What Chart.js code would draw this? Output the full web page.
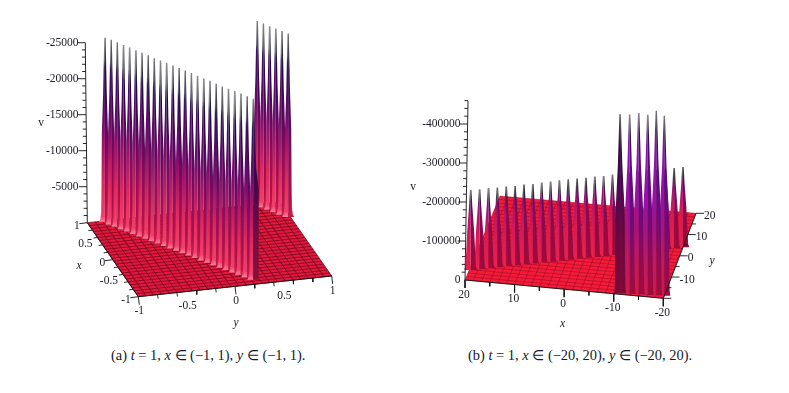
<!DOCTYPE html>
<html>
<head>
<meta charset="utf-8">
<script src="https://cdn.jsdelivr.net/npm/chart.js@4/dist/chart.umd.min.js"></script>
<style>
  html, body { margin: 0; background: #fff; }
  #page { position: relative; width: 789px; height: 393px; overflow: hidden; }
  canvas { position: absolute; top: 0; }
  .cap { position: absolute; top: 347px; font: 14.45px "Liberation Serif", serif; color: #14182a; white-space: nowrap; }
</style>
</head>
<body>
<div id="page">
  <canvas id="plotA" width="395" height="340" style="left:0"></canvas>
  <canvas id="plotB" width="394" height="340" style="left:395px"></canvas>
  <div class="cap" style="left:111px">(a) <i>t</i> = 1, <i>x</i> ∈ (−1, 1), <i>y</i> ∈ (−1, 1).</div>
  <div class="cap" style="left:468px">(b) <i>t</i> = 1, <i>x</i> ∈ (−20, 20), <i>y</i> ∈ (−20, 20).</div>
</div>
<script>
// panel (a) values
const aRidgeX = [0.97, 0.893, 0.816, 0.739, 0.662, 0.585, 0.508, 0.431, 0.354, 0.276, 0.199, 0.122, 0.045, -0.032, -0.109, -0.186, -0.263, -0.34, -0.417, -0.495, -0.572, -0.649, -0.726, -0.803, -0.88];
const aRidgeY = [-0.825, -0.781, -0.738, -0.694, -0.651, -0.607, -0.564, -0.52, -0.477, -0.433, -0.39, -0.346, -0.302, -0.259, -0.215, -0.172, -0.128, -0.085, -0.041, 0.002, 0.046, 0.09, 0.133, 0.177, 0.22];
const aRidgeV = [25600, 25650, 25630, 25590, 25560, 25530, 25490, 25500, 25420, 25420, 25450, 25400, 25380, 25380, 25350, 25310, 25280, 25290, 25210, 25170, 25180, 25210, 25170, 25130, 25140];
const aBackX = [0.986, 0.909, 0.832, 0.755, 0.677, 0.6];
const aBackY = [0.76, 0.803, 0.847, 0.89, 0.933, 0.977];
const aBackV = [25550, 25550, 25500, 25500, 25500, 25500];
const aVTicks = [5000, 10000, 15000, 20000, 25000];
const aXTicks = [1, 0.5, 0, -0.5, -1];
const aYTicks = [-1, -0.5, 0, 0.5, 1];

// panel (b) values
const bRidgeX = [19.7, 18.05, 16.39, 14.74, 13.08, 11.43, 9.78, 8.12, 6.47, 4.81, 3.16, 1.51, -0.15, -1.8, -3.46, -5.11, -6.77, -8.42, -10.07, -11.73, -13.38, -15.03, -16.69, -18.34, -20];
const bRidgeY = [-15.2, -14.4, -13.6, -12.8, -12, -11.2, -10.4, -9.6, -8.8, -8, -7.2, -6.4, -5.6, -4.8, -4, -3.2, -2.4, -1.6, -0.8, 0, 0.8, 1.6, 2.4, 3.2, 4];
const bRidgeV = [205100, 205100, 205400, 204600, 204900, 203800, 205100, 204100, 205100, 205400, 206200, 206400, 205600, 205600, 205900, 204900, 206200, 206200, 206400, 207200, 207200, 206700, 206700, 205900, 205900];
const bTallX = [-11.2, -13.1, -14.9, -16.7, -18.4, -20];
const bTallY = [-19.5, -19.4, -19.2, -19.1, -18.9, -18.8];
const bTallV = [459000, 460000, 465000, 462000, 473000, 461500];
const bVTicks = [100000, 200000, 300000, 400000];
const bXTicks = [20, 10, 0, -10, -20];
const bYTicks = [-10, 0, 10, 20];

// floor corners on the page, bilinear in between
const viewA = { xMax: 1, yMax: 1, perV: 36 / 5000,
  front0: { x: 87.3, y: 222.7 }, front1: { x: 138.3, y: 296.7 }, back0: { x: 280, y: 202 }, back1: { x: 331.7, y: 276 } };
const viewB = { xMax: 20, yMax: 20, perV: 39 / 100000,
  front0: { x: 465, y: 280 }, front1: { x: 663.3, y: 298.3 }, back0: { x: 500, y: 196 }, back1: { x: 696, y: 213.3 } };

// [height fraction, half width in px]
const profileA = [[0, 6], [0.015, 4.6], [0.05, 3.8], [0.15, 3.5], [0.48, 3.1], [0.7, 1.8], [1, 0.7]];
const profileShort = [[0, 6.5], [0.04, 5.2], [0.2, 4.6], [0.5, 3.4], [0.8, 1.6], [1, 0.8]];
const profileTall = [[0, 6], [0.03, 5.4], [0.2, 4.9], [0.48, 4.3], [0.72, 2.2], [1, 0.7]];
const profileWall = [[0, 5.5], [0.5, 5.5], [0.62, 3], [1, 0.7]];

const litA = [[0, '#f6809a'], [0.03, '#f0406c'], [0.2, '#e02a60'], [0.4, '#a8146a'], [0.55, '#6e0c6e'], [0.75, '#480a64'], [0.84, '#3a1a58'], [0.88, '#6a6a78'], [1, '#909090']];
const darkA = [[0, '#c81c48'], [0.1, '#b01248'], [0.3, '#8c1058'], [0.5, '#5c0a5e'], [0.8, '#22083e'], [0.86, '#2a2838'], [1, '#505050']];
const wallA = [[0, '#8a1036'], [0.3, '#6c0c44'], [0.6, '#340848'], [0.86, '#2a1a3a'], [1, '#666666']];
const litShort = [[0, '#e8204e'], [0.4, '#d81a58'], [0.65, '#b8146c'], [0.8, '#8a1070'], [0.88, '#4a3a50'], [1, '#7a7a7a']];
const darkShort = [[0, '#a00a38'], [0.4, '#900a44'], [0.65, '#800c58'], [0.8, '#5a0c58'], [0.88, '#2a2a30'], [1, '#444444']];
const litTall = [[0, '#cc1a4a'], [0.2, '#c01860'], [0.35, '#a8147c'], [0.5, '#9a12a0'], [0.8, '#9010b0'], [0.9, '#6a2a90'], [1, '#8c8090']];
const darkTall = [[0, '#a00c3c'], [0.2, '#8c0c54'], [0.4, '#6e0c78'], [0.75, '#560c86'], [0.88, '#2c1438'], [1, '#4a4a4a']];
const wallTall = [[0, '#7c0a38'], [0.3, '#6a0840'], [0.6, '#4a0a50'], [0.8, '#2c0a3c'], [1, '#555555']];

function project(view, x, y, v) {
  const u = (view.xMax - x) / (2 * view.xMax);
  const w = (y + view.yMax) / (2 * view.yMax);
  const px = (1 - u) * (1 - w) * view.front0.x + u * (1 - w) * view.front1.x + (1 - u) * w * view.back0.x + u * w * view.back1.x;
  const py = (1 - u) * (1 - w) * view.front0.y + u * (1 - w) * view.front1.y + (1 - u) * w * view.back0.y + u * w * view.back1.y;
  return { x: px, y: py - v * view.perV };
}

function shape(points, color) {
  return { data: points, showLine: true, fill: 'shape', backgroundColor: color, borderWidth: 0, pointRadius: 0, borderDash: [1] };
}

function lines(points, color, width) {
  return { data: points, showLine: true, fill: false, borderColor: color, borderWidth: width, pointRadius: 0, spanGaps: false };
}

function heightGradient(base, top, stops) {
  return function (ctx) {
    const c = ctx.chart;
    const y0 = c.scales.y ? c.scales.y.getPixelForValue(base.y) : NaN;
    const y1 = c.scales.y ? c.scales.y.getPixelForValue(top.y) : NaN;
    if (!isFinite(y0) || !isFinite(y1)) return stops[0][1];
    const g = c.ctx.createLinearGradient(0, y0, 0, y1);
    stops.forEach(s => g.addColorStop(s[0], s[1]));
    return g;
  };
}

// one ridge peak: a lit half and a shaded half
function spike(view, x, y, v, profile, lit, dark, rightProfile) {
  const base = project(view, x, y, 0);
  const top = project(view, x, y, v);
  const at = (f, off) => ({ x: base.x + off, y: base.y + (top.y - base.y) * f });
  const left = profile.map(p => at(p[0], -p[1]));
  const right = (rightProfile || profile).map(p => at(p[0], p[1]));
  const centre = [at(1, 0), at(0, 0)];
  return [
    shape(left.concat(centre), heightGradient(base, top, lit)),
    shape(right.concat(centre), heightGradient(base, top, dark))
  ];
}

function floor(view, color, gridColor, cells, gridWidth) {
  const X = view.xMax, Y = view.yMax;
  const out = [shape([project(view, X, -Y, 0), project(view, -X, -Y, 0), project(view, -X, Y, 0), project(view, X, Y, 0)], color)];
  const grid = [];
  for (let i = 0; i <= cells; i++) {
    const t = -1 + 2 * i / cells;
    grid.push(project(view, X * t, -Y, 0), project(view, X * t, Y, 0), { x: NaN, y: NaN });
    grid.push(project(view, X, Y * t, 0), project(view, -X, Y * t, 0), { x: NaN, y: NaN });
  }
  out.push(lines(grid, gridColor, gridWidth));
  return out;
}

// v axis with its ticks, plus the two front floor edges
function axes(view, vTop, vMinor, lean) {
  const X = view.xMax, Y = view.yMax;
  const o = project(view, X, -Y, 0);
  const topP = project(view, X, -Y, vTop);
  const pts = [];
  pts.push(o, { x: topP.x + lean, y: topP.y }, { x: NaN, y: NaN });
  for (let v = vMinor; v <= vTop; v += vMinor) {
    const p = project(view, X, -Y, v);
    const ax = o.x + lean * v / vTop;
    const major = Math.round(v / vMinor) % 5 === 0;
    pts.push({ x: ax, y: p.y }, { x: ax - (major ? 8 : 3.5), y: p.y }, { x: NaN, y: NaN });
  }
  pts.push(project(view, X, -Y, 0), project(view, -X, -Y, 0), { x: NaN, y: NaN });
  pts.push(project(view, -X, -Y, 0), project(view, -X, Y, 0), { x: NaN, y: NaN });
  return pts;
}

function tickMarks(pts, from, dx, dy, isMajor) {
  from.forEach((p, i) => {
    const k = isMajor(i) ? 1 : 0.5;
    pts.push(p, { x: p.x + dx * k, y: p.y + dy * k }, { x: NaN, y: NaN });
  });
}

function addText(list, text, x, y, align, italic) {
  list.push({ text, x, y, align, italic });
}

const textPlugin = {
  id: 'pageText',
  afterDraw(chart, args, opts) {
    const c = chart.ctx;
    c.save();
    c.textBaseline = 'middle';
    c.fillStyle = '#20202a';
    opts.items.forEach(t => {
      c.font = (t.italic ? 'italic ' : '') + '11.5px "Liberation Serif", serif';
      c.textAlign = t.align;
      c.fillText(t.text, chart.scales.x.getPixelForValue(t.x), chart.scales.y.getPixelForValue(t.y));
    });
    c.restore();
  }
};

function makeChart(id, xMin, xMax, drawn, items) {
  // Chart.js paints the first dataset last, so hand them over reversed
  return new Chart(document.getElementById(id).getContext('2d'), {
    type: 'scatter',
    data: { datasets: drawn.slice().reverse() },
    plugins: [textPlugin],
    options: {
      responsive: false,
      animation: false,
      events: [],
      layout: { padding: 0 },
      scales: {
        x: { type: 'linear', display: false, min: xMin, max: xMax },
        y: { type: 'linear', display: false, min: 0, max: 340, reverse: true }
      },
      plugins: { legend: { display: false }, tooltip: { enabled: false }, pageText: { items } }
    }
  });
}

function buildA() {
  let sets = floor(viewA, '#e01a3e', 'rgba(110,0,24,0.9)', 25, 0.8);
  aBackX.forEach((x, i) => { sets = sets.concat(spike(viewA, x, aBackY[i], aBackV[i], profileA, litA, darkA)); });
  aRidgeX.forEach((x, i) => {
    const last = i === aRidgeX.length - 1;
    if (last) sets = sets.concat(spike(viewA, x, aRidgeY[i], aRidgeV[i], profileA, litA, wallA, profileWall));
    else sets = sets.concat(spike(viewA, x, aRidgeY[i], aRidgeV[i], profileA, litA, darkA));
  });
  const ax = axes(viewA, 25000, 1000, -2);
  const leftEdge = [], frontEdge = [];
  for (let i = 0; i <= 10; i++) {
    leftEdge.push(project(viewA, 1 - i / 5, -1, 0));
    frontEdge.push(project(viewA, -1, -1 + i / 5, 0));
  }
  tickMarks(ax, leftEdge, -8, 1, i => i % 5 === 0);
  tickMarks(ax, frontEdge, 1, 8, i => i % 5 === 0);
  sets.push(lines(ax, '#111111', 0.9));

  const items = [];
  aVTicks.forEach(v => { const p = project(viewA, 1, -1, v); addText(items, '-' + v, 78.5, p.y, 'right'); });
  aXTicks.forEach(t => { const p = project(viewA, t, -1, 0); addText(items, String(t), p.x - 7.5, p.y + 3, 'right'); });
  aYTicks.forEach(t => { const p = project(viewA, -1, t, 0); addText(items, String(t), p.x + 1, p.y + 14.5, 'center'); });
  addText(items, 'v', 41, 123, 'center');
  addText(items, 'x', 79, 265.5, 'center', true);
  addText(items, 'y', 236, 323, 'center', true);
  makeChart('plotA', 0, 395, sets, items);
}

function buildB() {
  let sets = floor(viewB, '#f21c3a', 'rgba(130,0,24,0.65)', 24, 0.6);
  bRidgeX.slice().reverse().forEach((x, j) => {
    const i = bRidgeX.length - 1 - j;
    sets = sets.concat(spike(viewB, x, bRidgeY[i], bRidgeV[i], profileShort, litShort, darkShort));
  });
  bTallX.slice().reverse().forEach((x, j) => {
    const i = bTallX.length - 1 - j;
    if (i === 0) sets = sets.concat(spike(viewB, x, bTallY[i], bTallV[i], profileTall, wallTall, wallTall));
    else sets = sets.concat(spike(viewB, x, bTallY[i], bTallV[i], profileTall, litTall, darkTall));
  });
  const ax = axes(viewB, 460000, 20000, 3);
  const frontEdge = [], rightEdge = [];
  for (let i = 0; i <= 8; i++) {
    frontEdge.push(project(viewB, 20 - i * 5, -20, 0));
    rightEdge.push(project(viewB, -20, -20 + i * 5, 0));
  }
  tickMarks(ax, frontEdge, 0, 8, i => i % 2 === 0);
  tickMarks(ax, rightEdge, 8, 0, i => i % 2 === 0);
  sets.push(lines(ax, '#111111', 0.9));

  const items = [];
  bVTicks.forEach(v => { const p = project(viewB, 20, -20, v); addText(items, '-' + v, 460.5, p.y, 'right'); });
  addText(items, '0', 460.5, 279.5, 'right');
  bXTicks.forEach(t => { const p = project(viewB, t, -20, 0); addText(items, String(t), p.x - 1, p.y + 14.5, 'center'); });
  bYTicks.forEach(t => { const p = project(viewB, -20, t, 0); addText(items, String(t), p.x + 8, p.y + 2.5, 'left'); });
  addText(items, 'v', 413, 186.5, 'center');
  addText(items, 'x', 562.5, 324, 'center', true);
  addText(items, 'y', 712, 260.5, 'center', true);
  makeChart('plotB', 395, 789, sets, items);
}

buildA();
buildB();
</script>
</body>
</html>
